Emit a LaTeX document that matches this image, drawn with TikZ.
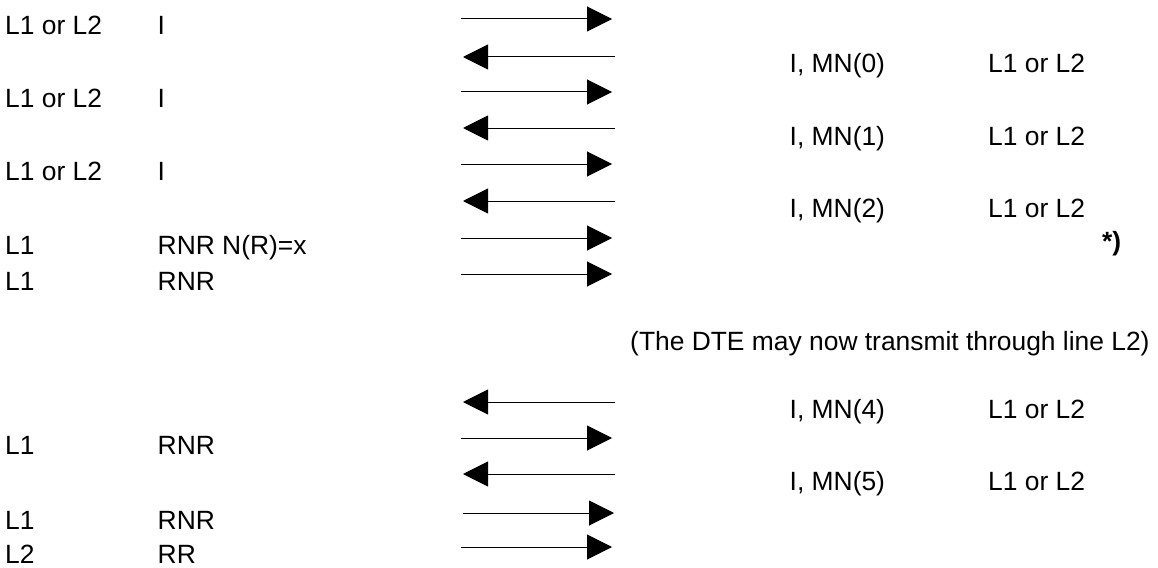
\documentclass[tikz,border=0pt]{standalone}
\usepackage{fontspec}
\setmainfont{Liberation Sans}
\usetikzlibrary{arrows.meta}
\begin{document}
\begin{tikzpicture}[x=1pt,y=-1pt,
  lbl/.style={anchor=base west,inner sep=0pt,font=\fontsize{26.4}{30}\selectfont},
  msg/.style={line width=1pt,-{Triangle[length=25pt,width=25pt]}}]
\useasboundingbox (0,0) rectangle (1158,567);
% left column
\node[lbl] (l1a) at (5,35) {L1 or L2};   \node[lbl] (l1b) at (157.5,35) {I};
\node[lbl] (l2a) at (5,107) {L1 or L2};  \node[lbl] (l2b) at (157.5,107) {I};
\node[lbl] (l3a) at (5,180) {L1 or L2};  \node[lbl] (l3b) at (157.5,180) {I};
\node[lbl] (l4a) at (5,254) {L1};        \node[lbl] (l4b) at (157.5,254) {RNR N(R)=x};
\node[lbl] (l5a) at (5,290) {L1};        \node[lbl] (l5b) at (157.5,290) {RNR};
\node[lbl] (l6a) at (5,454) {L1};        \node[lbl] (l6b) at (157.5,454) {RNR};
\node[lbl] (l7a) at (5,529) {L1};        \node[lbl] (l7b) at (157.5,529) {RNR};
\node[lbl] (l8a) at (5,563) {L2};        \node[lbl] (l8b) at (157.5,563) {RR};
% right column
\node[lbl] (r1a) at (789.5,73) {I, MN(0)};   \node[lbl] (r1b) at (988,73) {L1 or L2};
\node[lbl] (r2a) at (789.5,145) {I, MN(1)};  \node[lbl] (r2b) at (988,145) {L1 or L2};
\node[lbl] (r3a) at (789.5,217) {I, MN(2)};  \node[lbl] (r3b) at (988,217) {L1 or L2};
\node[lbl] (r4a) at (789.5,418) {I, MN(4)};  \node[lbl] (r4b) at (988,418) {L1 or L2};
\node[lbl] (r5a) at (789.5,490) {I, MN(5)};  \node[lbl] (r5b) at (988,490) {L1 or L2};
\node[lbl,font=\fontsize{26.4}{30}\selectfont\bfseries] (star) at (1102,250) {*)};
\node[lbl] (note) at (630,350) {(The DTE may now transmit through line L2)};
% arrow end points
\foreach \n/\y in {a1/19,a3/92,a5/164,a7/238,a8/274,a10/438,a13/547}{
  \coordinate (\n s) at (461,\y); \coordinate (\n e) at (612,\y);}
\coordinate (a12s) at (463,513); \coordinate (a12e) at (614,513);
\foreach \n/\y in {a2/57,a4/128,a6/201,a9/402,a11/474}{
  \coordinate (\n s) at (615,\y); \coordinate (\n e) at (463,\y);}
\foreach \n in {a1,a2,a3,a4,a5,a6,a7,a8,a9,a10,a11,a12,a13}{
  \draw[msg] (\n s) -- (\n e);}
\end{tikzpicture}
\end{document}
